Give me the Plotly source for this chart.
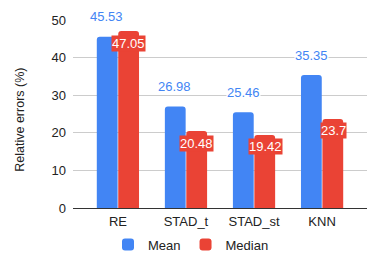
import plotly.graph_objects as go

categories = ["RE", "STAD_t", "STAD_st", "KNN"]
mean_vals = [45.53, 26.98, 25.46, 35.35]
median_vals = [47.05, 20.48, 19.42, 23.7]
y_ticks = [0, 10, 20, 30, 40, 50]

BLUE = "#4285F4"
RED = "#EA4335"
TXT = "#222222"
FONT = "Arial, 'Liberation Sans', sans-serif"

fig = go.Figure()
fig.add_trace(go.Bar(x=categories, y=mean_vals, name="Mean", marker_color=BLUE,
                     marker_line_width=0))
fig.add_trace(go.Bar(x=categories, y=median_vals, name="Median", marker_color=RED,
                     marker_line_width=0))

for c, v in zip(categories, mean_vals):
    fig.add_annotation(x=c, y=v, text=f"{v:g}", showarrow=False, xshift=-11, yshift=20,
                       font=dict(family=FONT, size=13, color=BLUE), bgcolor="white",
                       borderpad=0)
for c, v in zip(categories, median_vals):
    fig.add_annotation(x=c, y=v, text=f"{v:g}", showarrow=False, xshift=11, yshift=-12,
                       font=dict(family=FONT, size=13, color="white"), bgcolor=RED,
                       borderpad=0)

fig.add_annotation(text="Relative errors (%)", xref="paper", yref="paper",
                   x=-0.180, y=0.47, xanchor="center", yanchor="middle",
                   textangle=-90, showarrow=False,
                   font=dict(family=FONT, size=12.5, color=TXT))

fig.update_layout(
    width=381, height=265,
    margin=dict(l=73, r=14, t=20, b=57),
    paper_bgcolor="white", plot_bgcolor="white",
    barmode="group", bargap=0.37, bargroupgap=0.03, barcornerradius=3,
    font=dict(family=FONT, size=13, color=TXT),
    showlegend=True,
    legend=dict(orientation="h", xref="container", yref="container",
                x=108 / 381, xanchor="left", y=0.0774, yanchor="middle",
                font=dict(size=13, color=TXT), itemwidth=30, tracegroupgap=0),
    xaxis=dict(range=[-0.66, 3.66], showgrid=False, ticks="", showline=False,
               automargin=False, ticklabelstandoff=4,
               tickfont=dict(size=13, color=TXT)),
    yaxis=dict(range=[0, 50], tickvals=y_ticks, showgrid=True, gridcolor="#cccccc",
               gridwidth=1, zeroline=True, zerolinecolor="#333333", zerolinewidth=1,
               ticklabelstandoff=6, automargin=False,
               tickfont=dict(size=13, color=TXT)),
)
fig.write_html("out.html", config={"displayModeBar": False},
               post_script="document.body.style.margin='0';")
